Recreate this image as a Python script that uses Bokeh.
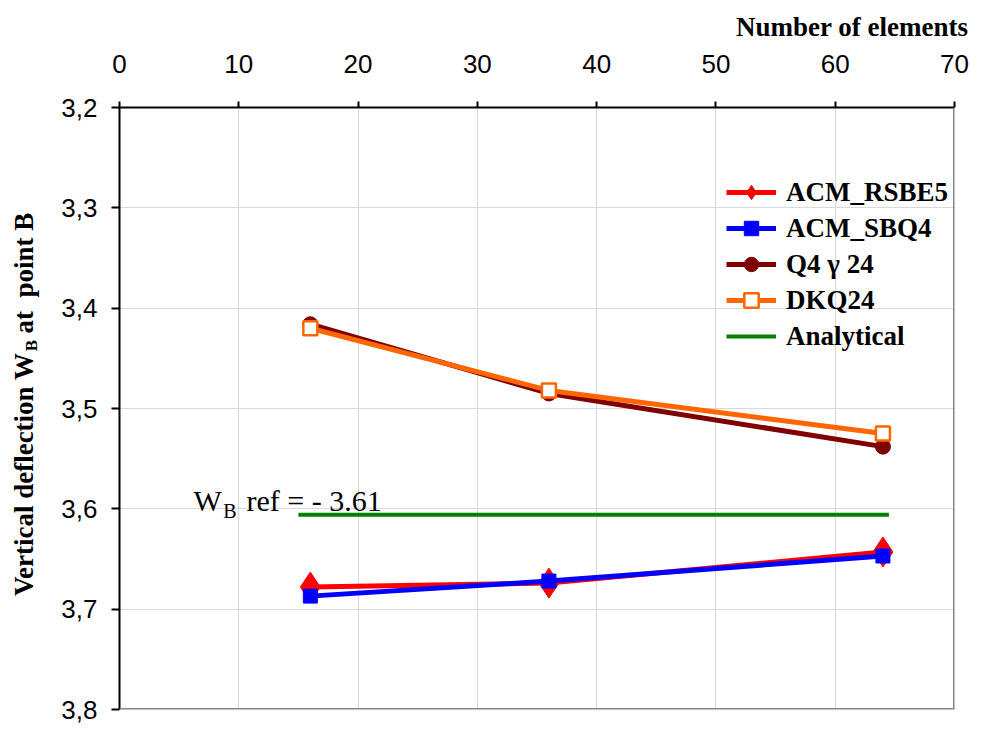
import math
from bokeh.plotting import figure
from bokeh.layouts import row
from bokeh.models import Range1d, FixedTicker, CustomJSTickFormatter, Label, Span
from bokeh.embed import file_html
from bokeh.resources import INLINE

# ---- data ----
elements = [16, 36, 64]
acm_rsbe5 = [3.678, 3.674, 3.643]
acm_sbq4 = [3.687, 3.672, 3.647]
q4g24 = [3.416, 3.485, 3.538]
dkq24 = [3.420, 3.482, 3.525]
analytical_x = [15, 36, 64.5]
analytical_y = [3.606, 3.606, 3.606]
x_ticks = [0, 10, 20, 30, 40, 50, 60, 70]
y_ticks = [3.2, 3.3, 3.4, 3.5, 3.6, 3.7, 3.8]
series_names = ["ACM_RSBE5", "ACM_SBQ4", "Q4 \u03b3 24", "DKQ24", "Analytical"]

SANS = "Liberation Sans"
SERIF = "Liberation Serif"
NB = "\u00a0"
H = 724
SIDE_W = 45
TOP = 104
BOTTOM_BORDER = 15
FRAME_BOTTOM = H - BOTTOM_BORDER

# ---------- side strip carrying the rotated y-axis title ----------
# its frame is aligned with the main frame, so the range is set in pixels
side = figure(width=SIDE_W, height=H, x_range=Range1d(0, SIDE_W),
              y_range=Range1d(FRAME_BOTTOM, TOP),
              x_axis_location=None, y_axis_location=None, output_backend="svg",
              toolbar_location=None, min_border=0)
side.outline_line_color = None
side.xgrid.visible = False
side.ygrid.visible = False
side.background_fill_color = "white"
side.border_fill_color = "white"
ang = math.pi / 2
side.add_layout(Label(x=23, y=595, angle=ang, text="Vertical deflection W", text_align="left",
                      text_baseline="middle", text_font=SERIF, text_font_style="bold",
                      text_font_size="27px", text_color="black"))
side.add_layout(Label(x=31, y=349, angle=ang, text="B", text_align="left",
                      text_baseline="middle", text_font=SERIF, text_font_style="bold",
                      text_font_size="17px", text_color="black"))
side.add_layout(Label(x=23, y=338, angle=ang, text=NB + "at" + NB + NB + "point" + NB + "B",
                      text_align="left", text_baseline="middle", text_font=SERIF,
                      text_font_style="bold", text_font_size="27px", text_color="black"))

# ---------- main chart ----------
p = figure(width=970 - SIDE_W, height=H, x_range=Range1d(0, 70), y_range=Range1d(3.8, 3.2),
           x_axis_location="above", output_backend="svg", toolbar_location=None,
           min_border_left=119 - SIDE_W, min_border_top=TOP, min_border_right=16,
           min_border_bottom=BOTTOM_BORDER)
p.outline_line_color = None
p.background_fill_color = "white"
p.border_fill_color = "white"

p.title.text = "Number of elements"
p.title.align = "right"
p.title.offset = -14
p.title.text_font = SERIF
p.title.text_font_style = "bold"
p.title.text_font_size = "27px"
p.title.text_color = "black"
p.title.standoff = 19

for ax in (p.xaxis[0], p.yaxis[0]):
    ax.axis_line_color = "black"
    ax.axis_line_width = 2
    ax.major_tick_line_color = "black"
    ax.major_tick_line_width = 2
    ax.major_tick_in = 0
    ax.minor_tick_line_color = None
    ax.major_label_text_font = SANS
    ax.major_label_text_font_size = "26px"
    ax.major_label_text_color = "black"
    ax.axis_label = None

p.xaxis.ticker = FixedTicker(ticks=x_ticks)
p.xaxis.major_tick_out = 6
p.xaxis.major_label_standoff = 29
p.yaxis.ticker = FixedTicker(ticks=y_ticks)
p.yaxis.major_tick_out = 8
p.yaxis.major_label_standoff = 14
p.yaxis.formatter = CustomJSTickFormatter(code="return tick.toFixed(1).replace('.', ',');")

p.xgrid.ticker = FixedTicker(ticks=x_ticks)
p.ygrid.ticker = FixedTicker(ticks=y_ticks)
p.xgrid.grid_line_color = "#d9d9d9"
p.ygrid.grid_line_color = "#d9d9d9"

# right / bottom frame border (gray)
p.add_layout(Span(location=70, dimension="height", line_color="#858585", line_width=3))
p.add_layout(Span(location=3.8, dimension="width", line_color="#858585", line_width=3))

# series
p.line(analytical_x, analytical_y, line_color="#008000", line_width=4, legend_label=series_names[4])

p.line(elements, acm_rsbe5, line_color="#ff0000", line_width=5, legend_label=series_names[0])
p.scatter(elements, acm_rsbe5, marker="diamond", size=30, fill_color="#ff0000",
          line_color="#ff0000", legend_label=series_names[0])

p.line(elements, acm_sbq4, line_color="#0000ff", line_width=5, legend_label=series_names[1])
p.scatter(elements, acm_sbq4, marker="square", size=14, fill_color="#0000ff",
          line_color="#0000ff", legend_label=series_names[1])

p.line(elements, q4g24, line_color="#800000", line_width=5, legend_label=series_names[2])
p.scatter(elements, q4g24, marker="circle", size=15, fill_color="#800000",
          line_color="#800000", legend_label=series_names[2])

p.line(elements, dkq24, line_color="#ff6600", line_width=5, legend_label=series_names[3])
p.scatter(elements, dkq24, marker="square", size=14, fill_color="white",
          line_color="#ff6600", line_width=2.5, legend_label=series_names[3])

lg = p.legend[0]
items = {it.label.value: it for it in lg.items}
lg.items = [items[k] for k in series_names]
lg.location = (607, 355)
lg.label_text_font = SERIF
lg.label_text_font_style = "bold"
lg.label_text_font_size = "27px"
lg.label_text_color = "black"
lg.glyph_width = 50
lg.glyph_height = 36
lg.label_height = 36
lg.spacing = 0
lg.label_standoff = 10
lg.padding = 4
lg.border_line_color = None
lg.background_fill_alpha = 0

# reference annotation
p.add_layout(Label(x=6.2, y=3.5918, text="W", text_align="left", text_baseline="middle",
                   text_font=SERIF, text_font_size="30px", text_color="black"))
p.add_layout(Label(x=8.7, y=3.602, text="B", text_align="left", text_baseline="middle",
                   text_font=SERIF, text_font_size="20px", text_color="black"))
p.add_layout(Label(x=10.65, y=3.5918, text="ref = - 3.61", text_align="left",
                   text_baseline="middle", text_font=SERIF, text_font_size="30px",
                   text_color="black"))

layout = row(side, p, spacing=0)
open("out.html", "w").write(file_html(layout, INLINE))
